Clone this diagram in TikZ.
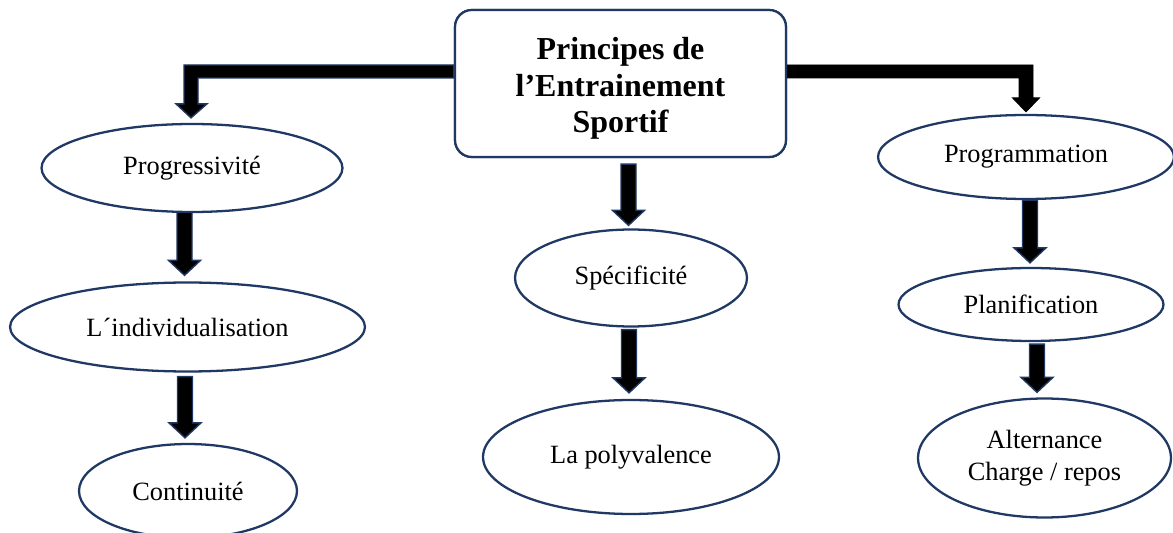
\documentclass[tikz,border=0pt]{standalone}
\usepackage{fontspec}
\setmainfont{Liberation Serif}
\usetikzlibrary{shapes.geometric,calc}
\definecolor{navy}{HTML}{1F3864}
\tikzset{
  oval/.style={ellipse, draw=navy, line width=1.3pt, fill=white, inner sep=0pt,
    align=center, font=\fontsize{15}{18}\selectfont},
  mainbox/.style={rectangle, draw=navy, line width=1.3pt, fill=white, rounded corners=9.6pt,
    inner sep=0pt, minimum width=6.62cm, minimum height=2.94cm},
  titletext/.style={align=center, inner sep=0pt, font=\fontsize{18.2}{20.6}\selectfont\bfseries},
  arr/.style={fill=black, draw=navy, line width=0.8pt, line join=miter},
  arrk/.style={fill=black, draw=black, line width=0.5pt, line join=miter}
}
% #1 top point, #2 tip point (named coordinates)
\newcommand\barrow[2]{%
  \filldraw[arr] ($(#1)+(-7.5,0)$) -- ($(#1)+(7.5,0)$) -- ($(#1 |- #2)+(7.5,-15)$)
    -- ($(#1 |- #2)+(16,-15)$) -- (#1 |- #2) -- ($(#1 |- #2)+(-16,-15)$)
    -- ($(#1 |- #2)+(-7.5,-15)$) -- cycle;}
\begin{document}
\begin{tikzpicture}[x=0.02cm, y=-0.02cm]
\useasboundingbox (0,0) rectangle (1173,533);
\clip (0,0) rectangle (1173,533);

% nodes
\node[mainbox] (main) at (620.5,83.5) {};
\node[oval, minimum width=6.02cm, minimum height=1.76cm] (prog) at (192,168) {Progressivité};
\node[oval, minimum width=7.1cm, minimum height=1.78cm] (indiv) at (187.5,327) {L´individualisation};
\node[oval, minimum width=4.36cm, minimum height=1.88cm] (cont) at (188,491) {Continuité};
\node[oval, minimum width=4.64cm, minimum height=1.94cm] (spec) at (631,278) {Spécificité};
\node[oval, minimum width=5.92cm, minimum height=2.28cm] (poly) at (631,457) {La polyvalence};
\node[oval, minimum width=5.92cm, minimum height=1.68cm] (progm) at (1026,157) {Programmation};
\node[oval, minimum width=5.3cm, minimum height=1.46cm] (plan) at (1031,304.5) {Planification};
\node[oval, minimum width=5.06cm, minimum height=2.38cm] (alt) at (1044.5,458) {Alternance\\Charge / repos};

% elbow arrows
\filldraw[arr] ($(main.west)+(0,-18.5)$) -- ($(prog.north |- main.west)+(-8,-18.5)$)
  -- ($(prog.north)+(-8,-19)$) -- ($(prog.north)+(-16,-19)$) -- ($(prog.north)+(-1,-5)$)
  -- ($(prog.north)+(15,-19)$) -- ($(prog.north)+(6,-19)$)
  -- ($(prog.north |- main.west)+(6,-5.5)$) -- ($(main.west)+(0,-5.5)$) -- cycle;
\filldraw[arrk] ($(main.east)+(0,-18.5)$) -- ($(progm.north |- main.east)+(7,-18.5)$)
  -- ($(progm.north)+(7,-16)$) -- ($(progm.north)+(13.5,-16)$) -- ($(progm.north)+(0,-2)$)
  -- ($(progm.north)+(-13.5,-16)$) -- ($(progm.north)+(-7,-16)$)
  -- ($(progm.north |- main.east)+(-7,-5.5)$) -- ($(main.east)+(0,-5.5)$) -- cycle;
% main box drawn on top of the arrow ends
\node[mainbox] at (main) {};
\node[titletext] (title) at ($(main)+(0,5)$) {Principes de\\l’Entrainement\\Sportif};

% vertical arrows
\coordinate (t1) at ($(prog.south)+(-7.5,-1)$); \coordinate (h1) at ($(indiv.north)+(0,-6)$);
\coordinate (t2) at ($(indiv.south)+(-2.5,4)$); \coordinate (h2) at ($(cont.north)+(0,-5)$);
\coordinate (t3) at ($(main.south)+(8,6)$);     \coordinate (h3) at ($(spec.north)+(0,-3)$);
\coordinate (t4) at ($(spec.south)+(-2,2)$);    \coordinate (h4) at ($(poly.north)+(0,-6)$);
\coordinate (t5) at ($(progm.south)+(4,0)$);    \coordinate (h5) at ($(plan.north)+(0,-4)$);
\coordinate (t6) at ($(plan.south)+(6,2)$);     \coordinate (h6) at ($(alt.north)+(0,-5)$);
\barrow{t1}{h1}
\barrow{t2}{h2}
\barrow{t3}{h3}
\barrow{t4}{h4}
\barrow{t5}{h5}
\barrow{t6}{h6}
\end{tikzpicture}
\end{document}
